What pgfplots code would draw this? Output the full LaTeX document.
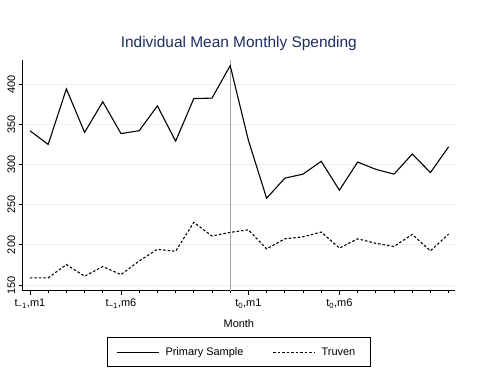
\documentclass[border=0pt]{standalone}
\usepackage{pgfplots}
\pgfplotsset{compat=1.18}
\usepackage{fontspec}
\setmainfont{Liberation Sans}
\definecolor{titlenavy}{RGB}{28,45,95}
\definecolor{gridc}{RGB}{232,240,242}
\begin{document}
\begin{tikzpicture}
\useasboundingbox (-22.7bp,-91.3bp) rectangle (462.3bp,290.7bp);
\begin{axis}[
  at={(0,0)}, anchor=south west,
  scale only axis,
  width=432.3bp, height=230.7bp,
  xmin=-0.4, xmax=23.35,
  ymin=143, ymax=430,
  axis lines*=left,
  axis line style={black, line width=0.8pt},
  /pgf/number format/assume math mode=true,
  xtick={0,5,12,17},
  xticklabels={{t\textsubscript{−1},m1}, {t\textsubscript{−1},m6}, {t\textsubscript{0},m1}, {t\textsubscript{0},m6}},
  minor xtick={1,2,3,4,6,7,8,9,10,11,13,14,15,16,18,19,20,21,22,23},
  ytick={150,200,250,300,350,400},
  tick align=outside,
  major tick length=4bp,
  minor tick length=2.5bp,
  tick style={black, line width=0.8pt},
  every tick label/.append style={font=\fontsize{11}{12}\selectfont},
  yticklabel style={rotate=90, anchor=south, xshift=0bp},
  xticklabel style={yshift=-1bp},
  ymajorgrids,
  major grid style={gridc, line width=0.8pt},
  xlabel={Month},
  xlabel style={font=\fontsize{11}{12}\selectfont, yshift=-4bp},
  title={Individual Mean Monthly Spending},
  title style={font=\fontsize{15.5}{17}\selectfont, text=titlenavy, yshift=0bp},
  legend columns=2,
  legend style={at={(0.5,-0.2007)}, anchor=north, draw=black, line width=0.8pt,
    font=\fontsize{11}{12}\selectfont, inner xsep=9bp, inner ysep=8bp,
    nodes={inner xsep=6bp},
    /tikz/every even column/.append style={column sep=23bp}},
  legend image code/.code={\draw[#1, line width=1.1pt] (0bp,0bp) -- (42bp,0bp);},
]
\addplot[gray!70, line width=1pt, forget plot] coordinates {(11,143) (11,430)};
\addplot[black, line width=1.1pt] coordinates {
(0,342) (1,325) (2,394) (3,340) (4,378) (5,338.5) (6,342) (7,373) (8,329) (9,382) (10,382.6) (11,423)
(12,330) (13,258) (14,283) (15,288) (16,304) (17,268) (18,303) (19,294) (20,288) (21,313) (22,290) (23,322)};
\addlegendentry{Primary Sample}
\addplot[black, line width=1.1pt, dash pattern=on 2.5bp off 2bp] coordinates {
(0,159) (1,159) (2,175.5) (3,161) (4,173) (5,163) (6,180) (7,194.5) (8,192) (9,228) (10,211) (11,215.6)
(12,218.7) (13,195) (14,207.5) (15,210) (16,216) (17,196) (18,207.5) (19,202) (20,198) (21,213) (22,192.5) (23,213.5)};
\addlegendentry{Truven}
\end{axis}
\end{tikzpicture}
\end{document}
